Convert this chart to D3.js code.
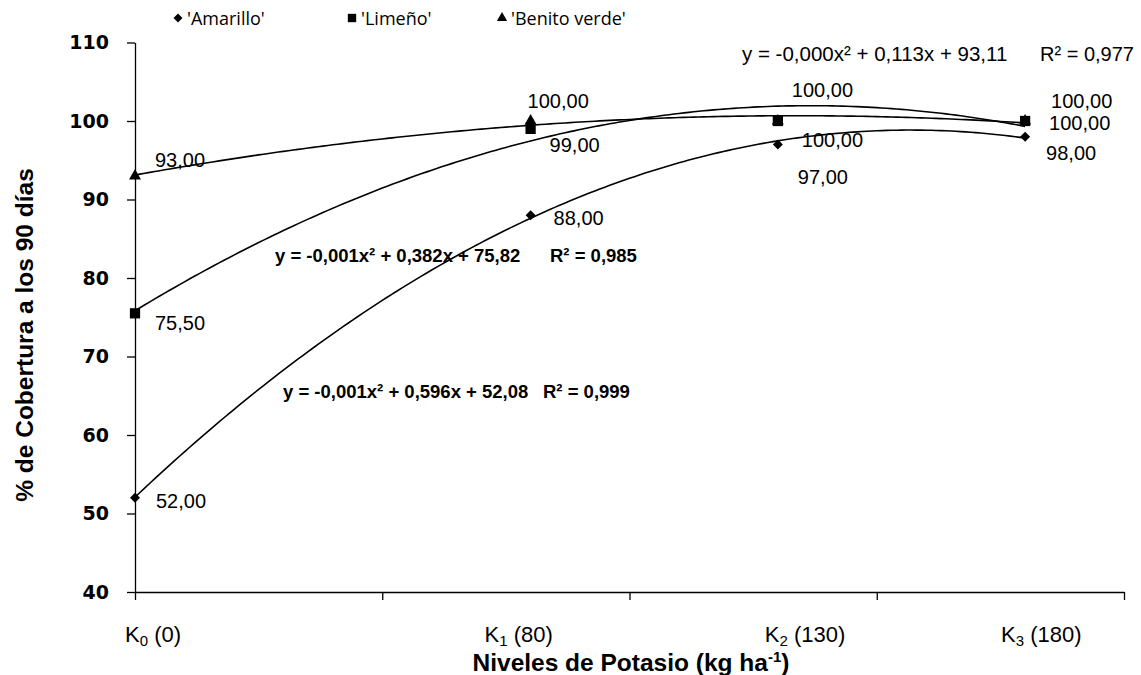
<!DOCTYPE html>
<html>
<head>
<meta charset="utf-8">
<script src="https://cdn.jsdelivr.net/npm/d3@7"></script>
<style>
  body { margin: 0; background: #fff; }
  svg { display: block; }
  text { font-family: Arial, "Liberation Sans", sans-serif; fill: #000; }
</style>
</head>
<body>
<svg id="chart"></svg>
<script>
// values
const kDoses = [0, 80, 130, 180];
const kNames = ["K", "K", "K", "K"];
const kSubs = ["0", "1", "2", "3"];
const kRest = [" (0)", " (80)", " (130)", " (180)"];

const amarillo = [52, 88, 97, 98];
const limeno = [75.5, 99, 100, 100];
const benito = [93, 100, 100, 100];

const seriesNames = ["'Amarillo'", "'Limeño'", "'Benito verde'"];
const equations = [
    "y = -0,001x² + 0,596x + 52,08",
    "y = -0,001x² + 0,382x + 75,82",
    "y = -0,000x² + 0,113x + 93,11"
];
const rSquared = ["R² = 0,999", "R² = 0,985", "R² = 0,977"];

const yTicks = [40, 50, 60, 70, 80, 90, 100, 110];
const xTicks = [0, 50, 100, 150, 200];

const margin = { top: 42.5, right: 17, bottom: 83, left: 135 },
    width = 1141 - margin.left - margin.right,
    height = 675 - margin.top - margin.bottom;

const svg = d3.select("#chart")
    .attr("width", 1141)
    .attr("height", 675);

const g = svg.append("g")
    .attr("transform", `translate(${margin.left},${margin.top})`);

const x = d3.scaleLinear().domain([0, 200]).range([0, width]);
const y = d3.scaleLinear().domain([40, 110]).range([height, 0]);

// axes
const yAxis = g.append("g")
    .call(d3.axisLeft(y).tickValues(yTicks).tickSize(8).tickSizeOuter(0).tickPadding(18));
yAxis.selectAll("text")
    .style("font-family", "'DejaVu Sans', sans-serif")
    .style("font-weight", "bold")
    .style("font-size", "19px");

const xAxis = g.append("g")
    .attr("transform", `translate(0,${height})`)
    .call(d3.axisBottom(x).tickValues(xTicks).tickSize(8).tickSizeOuter(0).tickFormat(""));

g.selectAll(".domain, .tick line").attr("stroke", "#000").attr("stroke-width", 1.3);

// quadratic least squares fit (Excel polynomial trendline)
function polyfit2(xs, ys) {
    let s = [0, 0, 0, 0, 0], t = [0, 0, 0];
    xs.forEach((xv, i) => {
        for (let k = 0; k <= 4; k++) s[k] += Math.pow(xv, k);
        for (let k = 0; k <= 2; k++) t[k] += Math.pow(xv, k) * ys[i];
    });
    const A = [
        [s[0], s[1], s[2], t[0]],
        [s[1], s[2], s[3], t[1]],
        [s[2], s[3], s[4], t[2]]
    ];
    for (let i = 0; i < 3; i++) {
        for (let j = i + 1; j < 3; j++) {
            const f = A[j][i] / A[i][i];
            for (let k = i; k < 4; k++) A[j][k] -= f * A[i][k];
        }
    }
    const c = [0, 0, 0];
    for (let i = 2; i >= 0; i--) {
        let v = A[i][3];
        for (let k = i + 1; k < 3; k++) v -= A[i][k] * c[k];
        c[i] = v / A[i][i];
    }
    return xv => c[0] + c[1] * xv + c[2] * xv * xv;
}

const allSeries = [amarillo, limeno, benito];
const fineX = d3.range(0, 180.5, 1);
const line = d3.line().x(d => x(d[0])).y(d => y(d[1]));

allSeries.forEach(vals => {
    const f = polyfit2(kDoses, vals);
    g.append("path")
        .datum(fineX.map(xv => [xv, f(xv)]))
        .attr("fill", "none")
        .attr("stroke", "#000")
        .attr("stroke-width", 1.6)
        .attr("d", line);
});

// markers (triangles first, squares over them, diamonds last)
const symDiamond = d3.symbol().type(d3.symbolSquare).size(50);
const symSquare = d3.symbol().type(d3.symbolSquare).size(105);
const symTriangle = d3.symbol().type(d3.symbolTriangle).size(62);

g.append("g").selectAll("path")
    .data(benito.map((v, i) => [kDoses[i], v]))
    .join("path")
    .attr("d", symTriangle)
    .attr("transform", d => `translate(${x(d[0])},${y(d[1])})`);

g.append("g").selectAll("path")
    .data(limeno.map((v, i) => [kDoses[i], v]))
    .join("path")
    .attr("d", symSquare)
    .attr("transform", d => `translate(${x(d[0])},${y(d[1])})`);

g.append("g").selectAll("path")
    .data(amarillo.map((v, i) => [kDoses[i], v]))
    .join("path")
    .attr("d", symDiamond)
    .attr("transform", d => `translate(${x(d[0])},${y(d[1])}) rotate(45)`);

// data labels, placed by hand like in the original
const fmt = v => d3.format(".2f")(v).replace(".", ",");
const labelShift = [
    [[21, 10], [23, 10], [20, 39], [21, 23]],      // amarillo
    [[20, 17], [19, 23], [24, 26], [24, 9]],       // limeño
    [[20, -9], [-3, -13], [14, -24], [26, -13]]    // benito
];
allSeries.forEach((vals, si) => {
    g.append("g").selectAll("text")
        .data(vals.map((v, i) => [kDoses[i], v, labelShift[si][i]]))
        .join("text")
        .attr("x", d => x(d[0]) + d[2][0])
        .attr("y", d => y(d[1]) + d[2][1])
        .style("font-size", "20px")
        .text(d => fmt(d[1]));
});

// trendline equations
const eqPos = [[283, 398, 543], [275, 262, 550], [742, 61, 1040]];
equations.forEach((eq, i) => {
    const bold = i < 2;
    svg.append("text")
        .attr("x", eqPos[i][0]).attr("y", eqPos[i][1])
        .style("font-size", bold ? "18.5px" : "20.5px")
        .style("font-weight", bold ? "bold" : "normal")
        .text(eq);
    svg.append("text")
        .attr("x", eqPos[i][2]).attr("y", eqPos[i][1])
        .style("font-size", bold ? "18.5px" : "20px")
        .style("font-weight", bold ? "bold" : "normal")
        .text(rSquared[i]);
});

// category labels under the axis
const catShift = [-10, -46, -13, -24];
kDoses.forEach((k, i) => {
    const t = svg.append("text")
        .attr("x", margin.left + x(k) + catShift[i])
        .attr("y", 642)
        .style("font-size", "22px");
    t.append("tspan").text(kNames[i]);
    t.append("tspan").attr("dy", 4).style("font-size", "15px").text(kSubs[i]);
    t.append("tspan").attr("dy", -4).text(kRest[i]);
});

// axis titles
const xt = svg.append("text")
    .attr("x", 631).attr("y", 671)
    .attr("text-anchor", "middle")
    .style("font-size", "24.5px")
    .style("font-weight", "bold");
xt.append("tspan").text("Niveles de Potasio (kg ha");
xt.append("tspan").attr("dy", -9).style("font-size", "15px").text("-1");
xt.append("tspan").attr("dy", 9).text(")");

svg.append("text")
    .attr("transform", "translate(33,335) rotate(-90)")
    .attr("text-anchor", "middle")
    .style("font-size", "24.5px")
    .style("font-weight", "bold")
    .text("% de Cobertura a los 90 días");

// legend
const legendItems = [
    { sym: d3.symbol().type(d3.symbolSquare).size(40), rot: 45, x: 178 },
    { sym: d3.symbol().type(d3.symbolSquare).size(70), rot: 0, x: 352 },
    { sym: d3.symbol().type(d3.symbolTriangle).size(46), rot: 0, x: 502 }
];
legendItems.forEach((it, i) => {
    svg.append("path")
        .attr("d", it.sym())
        .attr("transform", `translate(${it.x},18) rotate(${it.rot})`);
    svg.append("text")
        .attr("x", it.x + 9).attr("y", 25)
        .style("font-family", "'Open Sans', sans-serif")
        .style("font-size", "18px")
        .text(seriesNames[i]);
});
</script>
</body>
</html>
